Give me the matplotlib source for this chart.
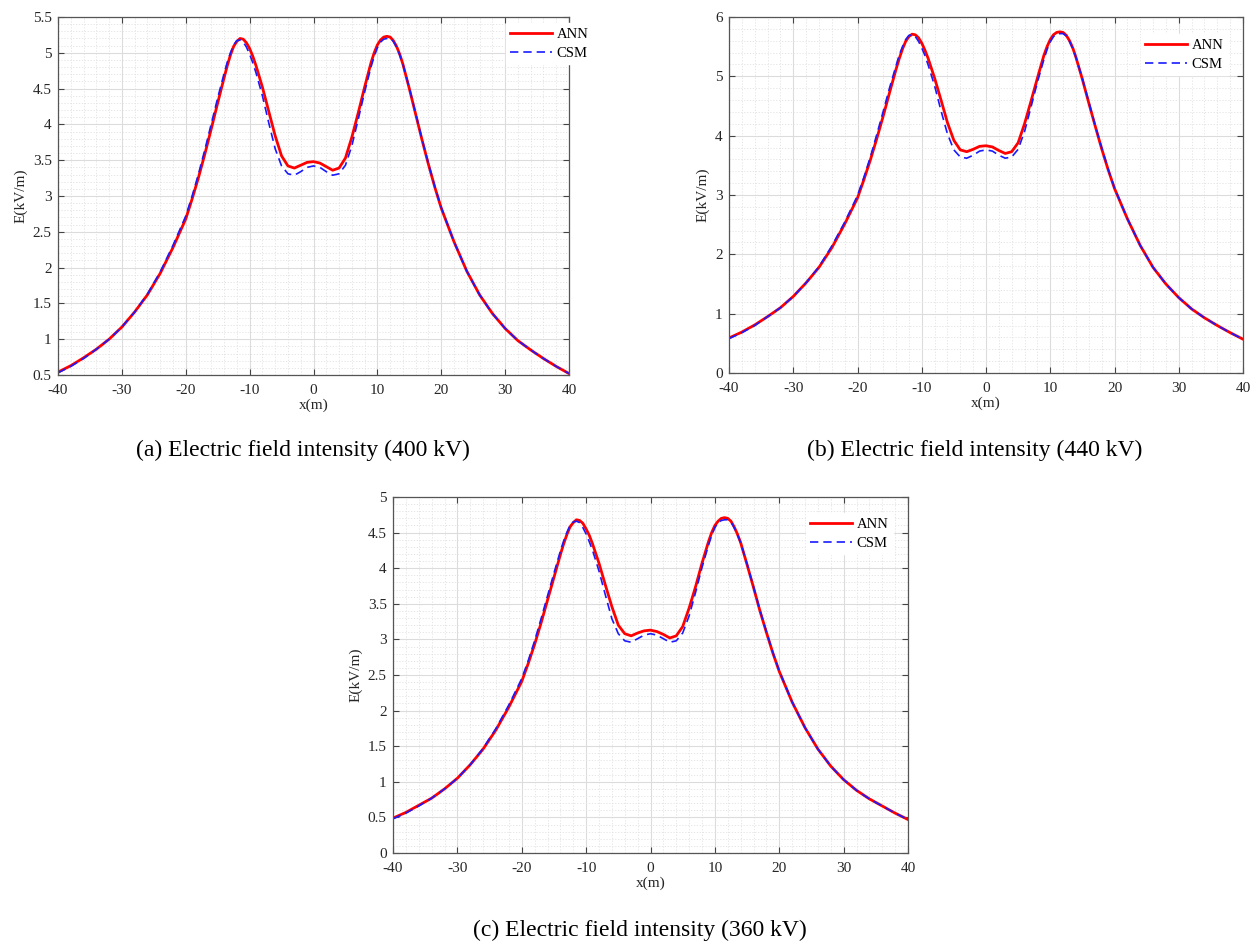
import numpy as np
import matplotlib
matplotlib.use("Agg")
import matplotlib.pyplot as plt
from matplotlib.ticker import MultipleLocator, FuncFormatter

plt.rcParams["font.family"] = ["Liberation Serif", "DejaVu Serif"]
plt.rcParams["axes.unicode_minus"] = False

# lateral distance (m), finer steps around the two peaks
x_m = [-40, -38, -36, -34, -32, -30, -28, -26, -24, -22,
       -20, -19, -18, -17, -16, -15, -14,
       -13.5, -13, -12.5, -12, -11.5, -11, -10.5, -10, -9.5,
       -9, -8, -7, -6, -5, -4, -3, -2, -1, 0, 1, 2, 3, 4, 5, 6, 7, 8, 9,
       9.5, 10, 10.5, 11, 11.5, 12, 12.5, 13, 13.5,
       14, 15, 16, 17, 18, 19, 20,
       22, 24, 26, 28, 30, 32, 34, 36, 38, 40]

# (a) 400 kV
ann_400 = [0.54, 0.63, 0.74, 0.86, 1.00, 1.17, 1.38, 1.62, 1.92, 2.28,
           2.68, 2.96, 3.26, 3.59, 3.94, 4.30, 4.65,
           4.82, 4.97, 5.09, 5.16, 5.20, 5.19, 5.14, 5.06, 4.95,
           4.82, 4.52, 4.18, 3.84, 3.56, 3.42, 3.39, 3.43, 3.47, 3.48,
           3.46, 3.41, 3.36, 3.39, 3.53, 3.82, 4.16, 4.52, 4.86,
           5.00, 5.11, 5.18, 5.22, 5.23, 5.22, 5.17, 5.09, 4.98,
           4.84, 4.50, 4.14, 3.78, 3.44, 3.12, 2.83,
           2.36, 1.95, 1.62, 1.36, 1.15, 0.98, 0.85, 0.73, 0.62, 0.52]
csm_400 = [0.53, 0.62, 0.73, 0.86, 1.00, 1.17, 1.38, 1.63, 1.94, 2.31,
           2.72, 3.00, 3.31, 3.65, 4.01, 4.37, 4.71,
           4.87, 5.00, 5.11, 5.17, 5.18, 5.15, 5.08, 4.98, 4.86,
           4.72, 4.40, 4.02, 3.66, 3.42, 3.31, 3.29, 3.34, 3.40, 3.42,
           3.40, 3.34, 3.29, 3.31, 3.43, 3.70, 4.07, 4.45, 4.80,
           4.95, 5.07, 5.15, 5.19, 5.20, 5.20, 5.16, 5.08, 4.97,
           4.84, 4.51, 4.15, 3.79, 3.45, 3.13, 2.84,
           2.36, 1.95, 1.62, 1.36, 1.15, 0.98, 0.85, 0.73, 0.62, 0.52]

# (b) 440 kV
ann_440 = [0.59, 0.69, 0.81, 0.95, 1.10, 1.29, 1.52, 1.78, 2.11, 2.51,
           2.95, 3.26, 3.59, 3.95, 4.33, 4.73, 5.12,
           5.30, 5.46, 5.59, 5.67, 5.71, 5.70, 5.65, 5.56, 5.44,
           5.30, 4.97, 4.60, 4.22, 3.92, 3.76, 3.73, 3.77, 3.82, 3.83,
           3.81, 3.75, 3.70, 3.73, 3.88, 4.20, 4.58, 4.97, 5.35,
           5.50, 5.62, 5.70, 5.74, 5.75, 5.74, 5.69, 5.60, 5.48,
           5.32, 4.95, 4.55, 4.16, 3.78, 3.43, 3.11,
           2.60, 2.15, 1.78, 1.50, 1.27, 1.08, 0.93, 0.80, 0.68, 0.57]
csm_440 = [0.58, 0.68, 0.80, 0.95, 1.10, 1.29, 1.52, 1.79, 2.14, 2.54,
           2.99, 3.30, 3.64, 4.02, 4.41, 4.81, 5.18,
           5.36, 5.50, 5.62, 5.69, 5.70, 5.67, 5.59, 5.48, 5.35,
           5.19, 4.84, 4.42, 4.03, 3.76, 3.64, 3.62, 3.67, 3.74, 3.76,
           3.74, 3.67, 3.62, 3.64, 3.77, 4.07, 4.48, 4.90, 5.28,
           5.45, 5.58, 5.67, 5.71, 5.72, 5.72, 5.68, 5.59, 5.47,
           5.32, 4.96, 4.57, 4.17, 3.80, 3.44, 3.12,
           2.60, 2.15, 1.78, 1.50, 1.27, 1.08, 0.93, 0.80, 0.68, 0.57]

# (c) 360 kV
ann_360 = [0.49, 0.57, 0.67, 0.77, 0.90, 1.05, 1.24, 1.46, 1.73, 2.05,
           2.41, 2.66, 2.93, 3.23, 3.55, 3.87, 4.19,
           4.34, 4.47, 4.58, 4.64, 4.68, 4.67, 4.63, 4.55, 4.46,
           4.34, 4.07, 3.76, 3.46, 3.20, 3.08, 3.05, 3.09, 3.12, 3.13,
           3.11, 3.07, 3.02, 3.05, 3.18, 3.44, 3.74, 4.07, 4.37,
           4.50, 4.60, 4.66, 4.70, 4.71, 4.70, 4.66, 4.58, 4.48,
           4.36, 4.05, 3.73, 3.40, 3.10, 2.81, 2.55,
           2.12, 1.76, 1.46, 1.22, 1.03, 0.88, 0.76, 0.66, 0.56, 0.47]
csm_360 = [0.48, 0.56, 0.66, 0.77, 0.90, 1.05, 1.24, 1.47, 1.75, 2.08,
           2.45, 2.70, 2.98, 3.29, 3.61, 3.93, 4.24,
           4.38, 4.50, 4.60, 4.65, 4.66, 4.64, 4.57, 4.48, 4.37,
           4.25, 3.96, 3.62, 3.29, 3.08, 2.98, 2.96, 3.01, 3.06, 3.08,
           3.06, 3.01, 2.96, 2.98, 3.09, 3.33, 3.66, 4.01, 4.32,
           4.46, 4.57, 4.64, 4.67, 4.68, 4.68, 4.65, 4.57, 4.47,
           4.36, 4.06, 3.74, 3.41, 3.11, 2.82, 2.56,
           2.12, 1.76, 1.46, 1.22, 1.03, 0.88, 0.76, 0.66, 0.56, 0.47]

captions = ["(a) Electric field intensity (400 kV)",
            "(b) Electric field intensity (440 kV)",
            "(c) Electric field intensity (360 kV)"]

W, H = 1253, 942


def px_axes(left, top, right, bottom):
    """pixel box -> figure fraction rect"""
    return [left / W, (H - bottom) / H, (right - left) / W, (bottom - top) / H]


def style_axes(ax, ylim, ymajor, yminor, leg_anchor):
    ax.set_xlim(-40, 40)
    ax.set_ylim(*ylim)
    ax.xaxis.set_major_locator(MultipleLocator(10))
    ax.xaxis.set_minor_locator(MultipleLocator(2))
    ax.yaxis.set_major_locator(MultipleLocator(ymajor))
    ax.yaxis.set_minor_locator(MultipleLocator(yminor))
    fmt = FuncFormatter(lambda v, p: f"{v:g}")
    ax.xaxis.set_major_formatter(fmt)
    ax.yaxis.set_major_formatter(fmt)

    ax.grid(which="major", color="#dcdcdc", linestyle="-", linewidth=0.8)
    ax.grid(which="minor", color="#e2e2e2", linestyle=(0, (1.5, 2)), linewidth=0.6)
    ax.set_axisbelow(True)

    ax.tick_params(which="major", direction="in", top=True, right=True,
                   length=4, width=0.8, color="#444444",
                   labelsize=11, labelcolor="#262626")
    ax.tick_params(axis="x", which="major", pad=6.5)
    ax.tick_params(axis="y", which="major", pad=4.5)
    ax.tick_params(which="minor", length=0, top=True, right=True)
    for sp in ax.spines.values():
        sp.set_color("#555555")
        sp.set_linewidth(0.9)

    ax.set_xlabel("x(m)", fontsize=11, color="#262626", labelpad=1)
    ax.set_ylabel("E(kV/m)", fontsize=11, color="#262626", labelpad=4)

    leg = ax.legend(loc="upper left", bbox_to_anchor=leg_anchor,
                    fontsize=10.5, frameon=True, fancybox=False,
                    handlelength=2.9, handletextpad=0.3, labelspacing=0.4,
                    borderpad=0.3, borderaxespad=0)
    leg.get_frame().set_facecolor("white")
    leg.get_frame().set_edgecolor("white")
    leg.get_frame().set_alpha(1)


fig = plt.figure(figsize=(W / 100, H / 100), dpi=100)

panels = [
    (px_axes(58, 17, 569, 375), ann_400, csm_400, (0.5, 5.5), 0.5, 0.1, (0.876, 0.983)),
    (px_axes(729, 17, 1243, 373), ann_440, csm_440, (0, 6), 1, 0.2, (0.801, 0.951)),
    (px_axes(393, 497, 908, 853), ann_360, csm_360, (0, 5), 0.5, 0.1, (0.801, 0.954)),
]

for rect, ann, csm, ylim, ymaj, ymin, anchor in panels:
    ax = fig.add_axes(rect)
    ax.plot(x_m, ann, color="red", linewidth=2.0, label="ANN")
    ax.plot(x_m, csm, color="#1a1aff", linewidth=1.2, linestyle=(0, (5, 3)), label="CSM")
    style_axes(ax, ylim, ymaj, ymin, anchor)

fig.text(303 / W, 1 - 450 / H, captions[0], fontsize=17, ha="center", va="center")
fig.text(975 / W, 1 - 450 / H, captions[1], fontsize=17, ha="center", va="center")
fig.text(640 / W, 1 - 930 / H, captions[2], fontsize=17, ha="center", va="center")

fig.savefig("out.png", dpi=100)
